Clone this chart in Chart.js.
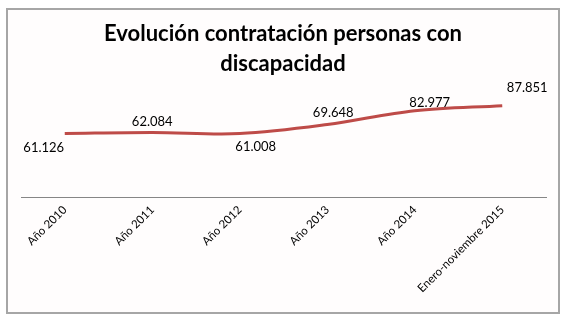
<!DOCTYPE html>
<html>
<head>
<meta charset="utf-8">
<script src="https://cdn.jsdelivr.net/npm/chart.js@4.4.0/dist/chart.umd.min.js"></script>
<style>
  body { margin: 0; background: #fff; }
  #box {
    position: absolute; left: 6px; top: 8px; width: 554px; height: 306px;
    box-sizing: border-box; border: 2px solid #a6a6a6; background: #fffdfd;
  }
  #wrap { position: absolute; left: 0; top: 0; width: 566px; height: 322px; }
</style>
</head>
<body>
<div id="box"></div>
<div id="wrap"><canvas id="chart" width="566" height="322"></canvas></div>
<script>
const titleLines = ['Evolución contratación personas con', 'discapacidad'];
const periods = ['Año 2010', 'Año 2011', 'Año 2012', 'Año 2013', 'Año 2014', 'Enero-noviembre 2015'];
const hires = [61126, 62084, 61008, 69648, 82977, 87851];

// thousands with a dot, like the original
const fmt = (v) => String(v).replace(/\B(?=(\d{3})+(?!\d))/g, '.');

// where each value label sits relative to its point (dx, dy)
const labelShift = [[-21, 14], [0, -11], [16, 13], [6, -12], [15, -8], [25, -18]];

const valueLabels = {
  id: 'valueLabels',
  afterDatasetsDraw(chart) {
    const ctx = chart.ctx;
    const meta = chart.getDatasetMeta(0);
    ctx.save();
    ctx.font = '13px Lato';
    ctx.fillStyle = '#000';
    ctx.textAlign = 'center';
    ctx.textBaseline = 'middle';
    meta.data.forEach((pt, i) => {
      const [dx, dy] = labelShift[i];
      ctx.fillText(fmt(hires[i]), pt.x + dx, pt.y + dy);
    });
    ctx.restore();
  }
};

// two-line title, baselines placed like the original
const titleBlock = {
  id: 'titleBlock',
  afterDraw(chart) {
    const ctx = chart.ctx;
    ctx.save();
    ctx.font = 'bold 22px Lato';
    ctx.fillStyle = '#000';
    ctx.textAlign = 'center';
    ctx.textBaseline = 'alphabetic';
    titleLines.forEach((line, i) => ctx.fillText(line, 283, 41 + i * 30));
    ctx.restore();
  }
};

new Chart(document.getElementById('chart'), {
  type: 'line',
  data: {
    labels: periods,
    datasets: [{
      data: hires,
      borderColor: '#be4b48',
      borderWidth: 3,
      pointRadius: 0,
      tension: 0.35,
      fill: false,
      clip: false
    }]
  },
  options: {
    responsive: false,
    animation: false,
    layout: { padding: { top: 93, left: 21, right: 20, bottom: 0 } },
    plugins: {
      legend: { display: false },
      tooltip: { enabled: false },
      title: { display: false }
    },
    scales: {
      x: {
        offset: true,
        grid: { display: false, drawTicks: false, offset: true },
        border: { display: true, color: '#868686', width: 1 },
        ticks: {
          color: '#000',
          font: { family: 'Lato', size: 11.5 },
          minRotation: 45,
          maxRotation: 45,
          padding: 6,
          autoSkip: false
        },
        afterFit: (s) => { s.height = 125; }
      },
      y: {
        display: false,
        min: 0,
        max: 100000
      }
    }
  },
  plugins: [valueLabels, titleBlock]
});
</script>
</body>
</html>
